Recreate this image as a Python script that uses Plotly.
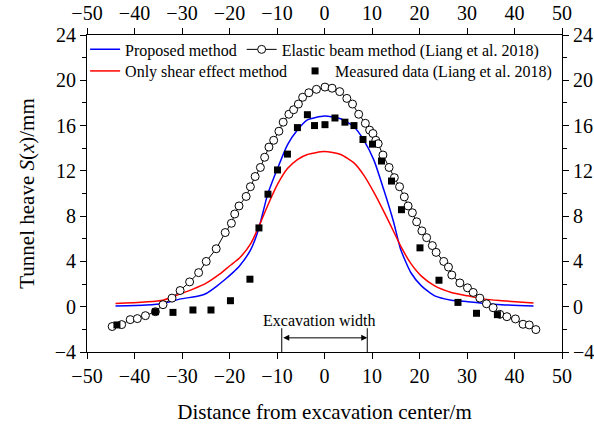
import plotly.graph_objects as go

# ---------------- data ----------------
proposed_x = [-44.0, -37.5, -34.0, -30.5, -26.3, -24.9, -22.8, -20.7, -19.3, -17.9, -15.5, -13.8, -12.0, -9.9,
              -7.8, -5.7, -3.6, 0.0, 3.4, 6.2, 8.3, 10.4, 12.5, 14.6, 16.0, 18.2, 20.4, 23.2, 26.7, 30.2,
              33.7, 37.3, 44.0]
proposed_y = [0.06, 0.15, 0.29, 0.67, 0.96, 1.17, 1.78, 2.49, 3.01, 3.6, 5.06, 6.96, 9.88, 12.2,
              14.3, 15.6, 16.5, 16.84, 16.6, 15.9, 14.7, 12.95, 10.3, 7.4, 5.1, 3.0, 1.84, 0.96, 0.58, 0.44,
              0.29, 0.18, 0.06]

shear_x = [-44.0, -34.0, -30.5, -27.7, -24.9, -22.1, -20.0, -17.9, -15.5, -13.8, -12.0, -9.9, -7.8, -5.7,
           -3.6, 0.0, 3.4, 6.2, 8.3, 10.4, 12.5, 14.6, 16.1, 18.2, 20.4, 23.2, 26.7, 30.2, 33.7, 37.3, 44.0]
shear_y = [0.29, 0.58, 1.11, 1.55, 2.08, 2.87, 3.6, 4.3, 5.6, 7.1, 8.9, 10.8, 12.2, 13.0,
           13.45, 13.7, 13.45, 12.7, 11.6, 10.1, 8.4, 6.6, 5.3, 3.8, 2.7, 1.84, 1.26, 0.96, 0.67, 0.53, 0.32]

elastic_x = [-44.7, -42.7, -40.9, -39.4, -37.7, -35.6, -34.0, -32.1, -30.4, -28.4, -26.5, -24.9, -22.8,
             -20.9, -19.6, -18.9, -18.0, -16.5, -15.6, -14.6, -13.5, -12.6, -11.7, -10.7, -9.6, -8.7,
             -7.5, -6.5, -5.5, -4.6, -3.3, -1.7, 0.1, 1.6, 3.2, 4.7, 5.9, 7.2, 8.6, 9.5, 10.2, 10.8,
             11.3, 12.3, 13.6, 14.7, 15.8, 16.8, 17.6, 18.5, 19.4, 20.5, 21.5, 22.7, 23.5, 25.1, 26.1,
             26.8, 28.5, 30.1, 31.3, 32.7, 34.1, 35.5, 36.9, 38.4, 40.2, 41.8, 43.1, 44.5]
elastic_y = [-1.75, -1.58, -1.14, -1.05, -0.79, -0.44, 0.18, 0.76, 1.43, 2.19, 3.01, 4.0, 5.12,
             6.55, 7.37, 8.19, 8.9, 9.74, 10.6, 11.5, 12.3, 13.2, 14.1, 14.7, 15.5, 16.3,
             17.0, 17.4, 17.9, 18.5, 18.9, 19.2, 19.4, 19.3, 19.0, 18.4, 17.9, 17.0, 16.2, 15.6, 15.3, 14.7,
             14.4, 13.4, 12.3, 11.4, 10.6, 9.7, 8.9, 8.3, 7.5, 6.7, 6.1, 5.4, 4.8, 4.0, 3.5,
             2.8, 2.1, 1.67, 1.26, 0.76, 0.26, -0.09, -0.67, -0.88, -1.08, -1.55, -1.61, -2.02]

measured_x = [-43.7, -35.6, -31.9, -27.7, -23.9, -19.8, -15.7, -13.8, -11.9, -9.9, -7.8, -5.7, -3.6,
              -2.1, 0.1, 2.2, 4.3, 6.2, 8.1, 10.1, 12.0, 14.1, 16.2, 20.1, 24.1, 28.1, 32.0, 36.4]
measured_y = [-1.61, -0.44, -0.50, -0.29, -0.29, 0.53, 2.43, 6.96, 9.94, 12.08, 13.48, 15.82, 16.96,
              16.0, 16.08, 16.67, 16.3, 16.0, 14.77, 14.36, 12.87, 11.1, 8.57, 5.2, 2.34, 0.38, -0.58, -0.70]

x_ticks = [-50, -40, -30, -20, -10, 0, 10, 20, 30, 40, 50]
y_ticks = [-4, 0, 4, 8, 12, 16, 20, 24]
excavation_edges = [-9.0, 9.0]

FONT = "Liberation Serif, Times New Roman, serif"

fig = go.Figure()
fig.add_trace(go.Scatter(x=proposed_x, y=proposed_y, mode="lines", name="Proposed method",
                         line=dict(color="#0000ff", width=1.5, shape="spline", smoothing=0.6),
                         legend="legend"))
fig.add_trace(go.Scatter(x=shear_x, y=shear_y, mode="lines", name="Only shear effect method",
                         line=dict(color="#ff0000", width=1.5, shape="spline", smoothing=0.6),
                         legend="legend2"))
fig.add_trace(go.Scatter(x=elastic_x, y=elastic_y, mode="lines+markers",
                         name="Elastic beam method (Liang et al. 2018)",
                         line=dict(color="black", width=1),
                         marker=dict(symbol="circle", size=8, color="white",
                                     line=dict(color="black", width=1)),
                         legend="legend"))
fig.add_trace(go.Scatter(x=measured_x, y=measured_y, mode="markers",
                         name="Measured data (Liang et al. 2018)",
                         marker=dict(symbol="square", size=7, color="black"),
                         legend="legend3"))

axis_common = dict(showline=True, linecolor="black", linewidth=1, ticks="outside",
                   ticklen=6, tickwidth=1, tickcolor="black", showgrid=False, zeroline=False,
                   automargin=False,
                   tickfont=dict(family=FONT, size=20, color="black"))

legend_common = dict(orientation="h", xanchor="left", yanchor="top",
                     bgcolor="rgba(0,0,0,0)", font=dict(family=FONT, size=16),
                     itemwidth=30, tracegroupgap=0)

fig.update_layout(
    width=594, height=425,
    margin=dict(l=87, r=32, t=35, b=73),
    paper_bgcolor="white", plot_bgcolor="white",
    font=dict(family=FONT, color="black"),
    xaxis=dict(range=[-50, 50], tickvals=x_ticks, **axis_common,
               title=dict(text="Distance from excavation center/m",
                          font=dict(family=FONT, size=21), standoff=18)),
    xaxis2=dict(range=[-50, 50], tickvals=x_ticks, overlaying="x", side="top",
                anchor="y", **axis_common),
    yaxis=dict(range=[-4, 24], tickvals=y_ticks, **axis_common,
               minor=dict(dtick=2, ticks="outside", ticklen=4, tickcolor="black"),
               title=dict(text="Tunnel heave <i>S</i>(<i>x</i>)/mm",
                          font=dict(family=FONT, size=21), standoff=14)),
    yaxis2=dict(range=[-4, 24], tickvals=y_ticks, overlaying="y", side="right",
                anchor="x", **axis_common,
                minor=dict(dtick=2, ticks="outside", ticklen=4, tickcolor="black")),
    legend=dict(x=-0.004, y=1.008, **legend_common),
    legend2=dict(x=-0.004, y=0.940, **legend_common),
    legend3=dict(x=0.438, y=0.940, **legend_common),
    showlegend=True,
)

# dummy trace to activate top/right axes
fig.add_trace(go.Scatter(x=[None], y=[None], xaxis="x2", yaxis="y2", showlegend=False,
                         hoverinfo="skip"))

# excavation width marker
for xe in excavation_edges:
    fig.add_shape(type="line", xref="x", yref="y", x0=xe, x1=xe, y0=-4, y1=-1.9,
                  line=dict(color="black", width=1))
fig.add_annotation(x=excavation_edges[1], y=-2.75, ax=excavation_edges[0], ay=-2.75,
                   xref="x", yref="y", axref="x", ayref="y", text="",
                   showarrow=True, arrowhead=2, arrowside="end+start", arrowsize=1.2,
                   arrowwidth=1, arrowcolor="black")
fig.add_annotation(x=-1.2, y=-1.25, xref="x", yref="y", text="Excavation width",
                   showarrow=False, font=dict(family=FONT, size=16, color="black"))

fig.write_html("out.html")
